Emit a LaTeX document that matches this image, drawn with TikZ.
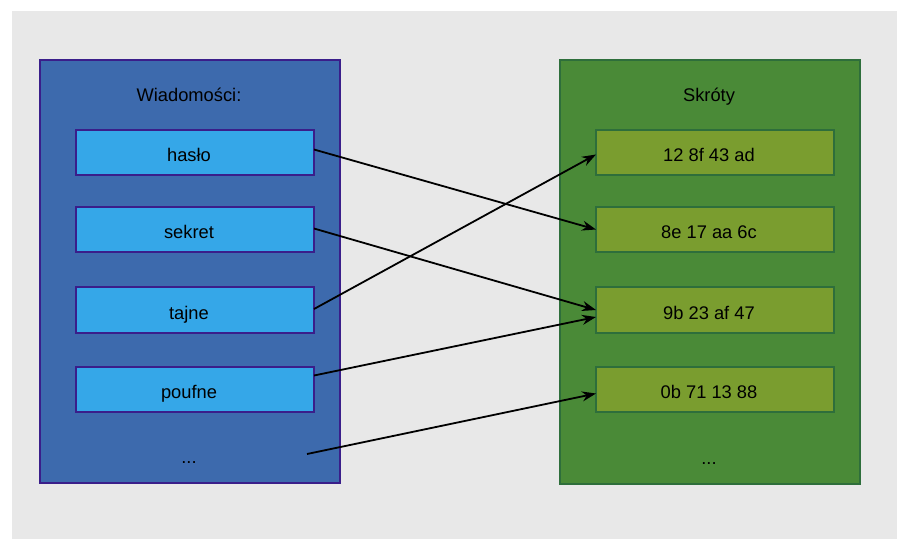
\documentclass[tikz,border=0pt]{standalone}
\usepackage{fontspec}
\setmainfont{Liberation Sans}
\usetikzlibrary{arrows.meta}
\definecolor{bgc}{HTML}{E8E8E8}
\definecolor{bluefill}{HTML}{3D6AAD}
\definecolor{blueedge}{HTML}{3A1E8A}
\definecolor{cyanfill}{HTML}{35A7E8}
\definecolor{greenfill}{HTML}{4A8A37}
\definecolor{greenedge}{HTML}{2E6E3B}
\definecolor{olivefill}{HTML}{7A9D2F}
\tikzset{
  x=1pt, y=-1pt,
  every node/.style={font=\fontsize{18.3}{21}\selectfont, inner sep=0pt, outer sep=0pt, text height=18pt, text depth=0pt},
  bluepanel/.style={draw=blueedge, fill=bluefill, line width=2pt, minimum width=300pt, minimum height=423pt},
  greenpanel/.style={draw=greenedge, fill=greenfill, line width=2pt, minimum width=300pt, minimum height=424pt},
  boxlabel/.style={xshift=-6pt, inner sep=0pt, text height=18pt, text depth=0pt},
  msgbox/.style={draw=blueedge, fill=cyanfill, line width=1.8pt, minimum width=238pt, minimum height=45.5pt, label={[boxlabel]center:#1}},
  hashbox/.style={draw=greenedge, fill=olivefill, line width=1.8pt, minimum width=238pt, minimum height=45.5pt, label={[boxlabel]center:#1}},
  conn/.style={line width=1.8pt, -{Stealth[length=14pt,width=10pt]}}
}
\begin{document}
\begin{tikzpicture}
\useasboundingbox (0,0) rectangle (902,539);
\fill[bgc] (12,11) rectangle (897,539);
\node[bluepanel] (lp) at (190,271.5) {};
\node[greenpanel] (rp) at (710,272) {};
\node (lt) at (189,92.5) {Wiadomości:};
\node (rt) at (709,92.5) {Skróty};
\node (m1) [msgbox=hasło] at (195,152.5) {};
\node (m2) [msgbox=sekret] at (195,229.5) {};
\node (m3) [msgbox=tajne] at (195,310) {};
\node (m4) [msgbox=poufne] at (195,389.5) {};
\node (m5) at (189,454.5) {...};
\node (h1) [hashbox=12 8f 43 ad] at (715,152.5) {};
\node (h2) [hashbox=8e 17 aa 6c] at (715,229.5) {};
\node (h3) [hashbox=9b 23 af 47] at (715,310) {};
\node (h4) [hashbox=0b 71 13 88] at (715,389.5) {};
\node (h5) at (709,455.5) {...};
\coordinate (dots) at (307,454);
\draw[conn] ([yshift=3pt]m1.east) -- (h2.west);
\draw[conn] ([yshift=1pt]m2.east) -- (h3.west);
\draw[conn] ([yshift=1pt]m3.east) -- ([yshift=-2pt]h1.west);
\draw[conn] ([yshift=14pt]m4.east) -- ([yshift=-7pt]h3.west);
\draw[conn] (dots) -- ([yshift=-4pt]h4.west);
\end{tikzpicture}
\end{document}
